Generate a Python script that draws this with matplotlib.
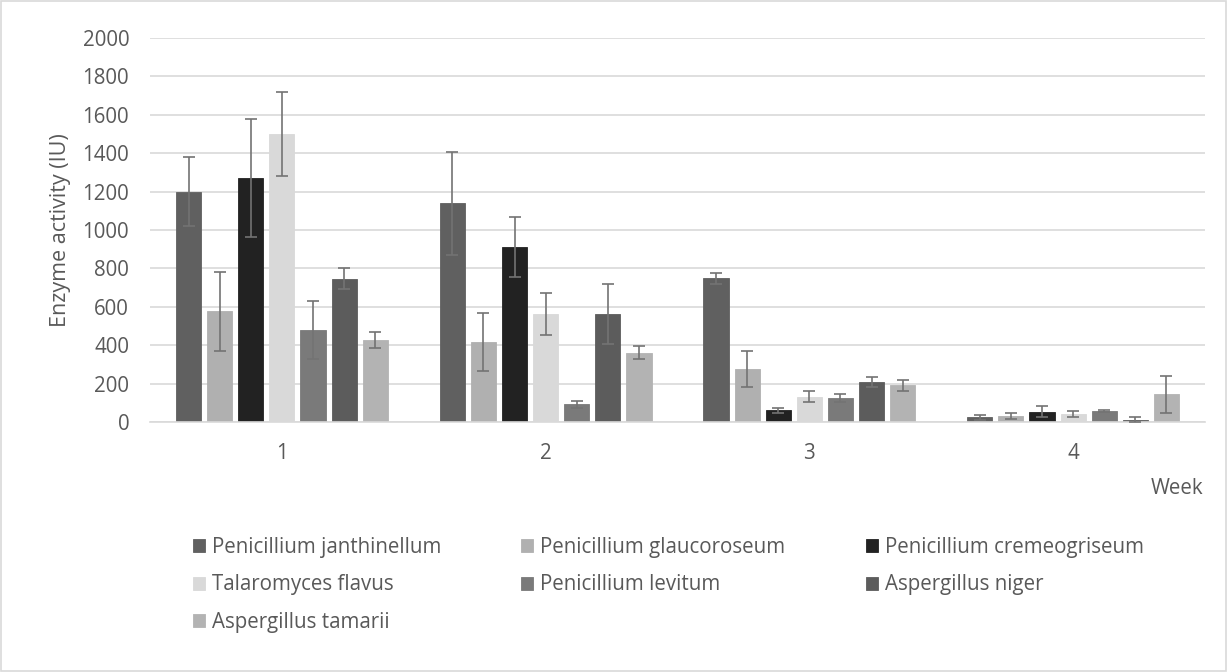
import matplotlib
matplotlib.use("Agg")
import matplotlib.pyplot as plt
from matplotlib.patches import Rectangle
import numpy as np

plt.rcParams['font.family'] = ['Open Sans', 'DejaVu Sans']

weeks = ["1", "2", "3", "4"]
species = ["Penicillium janthinellum", "Penicillium glaucoroseum", "Penicillium cremeogriseum",
           "Talaromyces flavus", "Penicillium levitum", "Aspergillus niger", "Aspergillus tamarii"]
colors = ["#606060", "#b0b0b0", "#222222", "#d9d9d9", "#7a7a7a", "#5c5c5c", "#b3b3b3"]

janthinellum = [1200, 1140, 748, 26]
glaucoroseum = [576, 418, 276, 33]
cremeogriseum = [1271, 911, 61, 54]
flavus = [1500, 562, 132, 42]
levitum = [479, 92, 125, 59]
niger = [746, 562, 208, 12]
tamarii = [425, 361, 191, 144]

janthinellum_err = [180, 268, 30, 13]
glaucoroseum_err = [205, 150, 95, 16]
cremeogriseum_err = [305, 155, 12, 30]
flavus_err = [218, 108, 30, 15]
levitum_err = [150, 18, 20, 5]
niger_err = [55, 155, 25, 12]
tamarii_err = [42, 33, 27, 95]

values = [janthinellum, glaucoroseum, cremeogriseum, flavus, levitum, niger, tamarii]
errors = [janthinellum_err, glaucoroseum_err, cremeogriseum_err, flavus_err, levitum_err, niger_err, tamarii_err]

text_color = "#595959"
grid_color = "#d9d9d9"
fs = 14.8

fig = plt.figure(figsize=(12.27, 6.72), dpi=100)
ax = fig.add_axes([150/1227, 1-422/672, 1055/1227, 384/672])

x = np.arange(1, len(weeks) + 1)
step = 0.118
width = 0.095
n = len(species)
handles = []
for i, (name, vals, errs, c) in enumerate(zip(species, values, errors, colors)):
    pos = x + (i - (n - 1) / 2) * step
    b = ax.bar(pos, vals, width=width, color=c, edgecolor=c, linewidth=0.6, label=name, zorder=2)
    ax.errorbar(pos, vals, yerr=errs, fmt='none', ecolor="#737373", elinewidth=1.2,
                capsize=4.3, capthick=1.2, zorder=3)
    handles.append(b)

ax.set_xlim(0.5, 4.5)
ax.set_ylim(0, 2000)
ax.set_yticks(np.arange(0, 2001, 200))
ax.set_xticks(x)
ax.set_xticklabels(weeks)
ax.yaxis.grid(True, color=grid_color, linewidth=1.2, zorder=0)
ax.set_axisbelow(True)
for s in ["top", "right", "left"]:
    ax.spines[s].set_visible(False)
ax.spines["bottom"].set_color(grid_color)
ax.spines["bottom"].set_linewidth(1.2)
ax.tick_params(axis='both', length=0, colors=text_color, labelsize=fs)
ax.tick_params(axis='x', pad=15)
ax.tick_params(axis='y', pad=15)
ax.set_ylabel("Enzyme activity (IU)", color=text_color, fontsize=15.5, labelpad=8)

fig.text(1203/1227, 1-488/672, "Week", ha='right', va='center', color=text_color, fontsize=fs)

# legend laid out row-wise like the reference (matplotlib fills columns first)
order = [0, 3, 6, 1, 4, 2, 5]
leg = fig.legend(handles=[handles[k] for k in order], labels=[species[k] for k in order],
                 ncol=3, loc='upper left',
                 bbox_to_anchor=(193/1227, 1-537/672), frameon=False, borderpad=0,
                 borderaxespad=0,
                 handlelength=0.58, handleheight=0.58, handletextpad=0.34,
                 columnspacing=3.9, labelspacing=0.8, fontsize=fs)
for t in leg.get_texts():
    t.set_color(text_color)

fig.patches.append(Rectangle((1/1227, 1/672), 1-2/1227, 1-2/672, transform=fig.transFigure,
                             fill=False, edgecolor=grid_color, linewidth=1.2))

fig.savefig("out.png", dpi=100)
